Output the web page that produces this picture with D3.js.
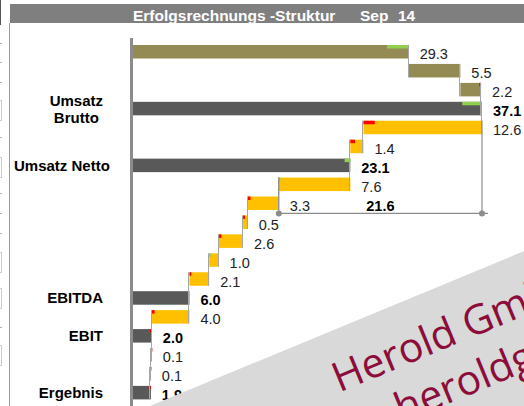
<!DOCTYPE html>
<html>
<head>
<meta charset="utf-8">
<script src="https://cdn.jsdelivr.net/npm/d3@7"></script>
<style>
  body { margin: 0; background: #fff; }
  svg { display: block; font-family: "Liberation Sans", Arial, sans-serif; }
</style>
</head>
<body>
<div id="chart"></div>
<script>
// waterfall rows, top to bottom
const stepValues = [29.3, 5.5, 2.2, 37.1, 12.6, 1.4, 23.1, 7.6, 3.3, 0.5, 2.6, 1.0, 2.1, 6.0, 4.0, 2.0, 0.1, 0.1, 1.9];
const stepTypes = ["add", "add", "add", "total", "sub", "sub", "total", "sub", "sub", "sub", "sub", "sub", "sub", "total", "sub", "total", "sub", "sub", "total"];
// change vs. previous period (green = up, red = down)
const deltaValues = [2.3, 0, -0.2, 2.1, -1.2, -0.5, 0.6, 0.1, -0.3, -0.2, -0.3, 0.2, -0.2, 0.1, -0.3, -0.2, -0.1, -0.1, -0.2];
const categoryRows = [3, 6, 13, 15, 18];
const categoryNames = [["Umsatz", "Brutto"], ["Umsatz Netto"], ["EBITDA"], ["EBIT"], ["Ergebnis"]];
const bracketRows = [4, 7];
const titleParts = ["Erfolgsrechnungs -Struktur", "Sep", "14"];

const width = 524, height = 406;
const colors = { add: "#948A54", total: "#595959", sub: "#FFC000", up: "#92D050", down: "#FF0000" };

const svg = d3.select("#chart").append("svg").attr("width", width).attr("height", height);

// left strip & frame
svg.append("line").attr("x1", 0.5).attr("x2", 0.5).attr("y1", 0).attr("y2", 25)
  .attr("stroke", "#555").attr("stroke-width", 1);
[43, 62, 82, 137, 193, 213, 233, 327].forEach((yy) => {
  svg.append("line").attr("x1", 0).attr("x2", 2).attr("y1", yy + 0.5).attr("y2", yy + 0.5).attr("stroke", "#aaa");
});
[100, 157, 252, 288, 345].forEach((yy) => {
  svg.append("rect").attr("x", -1).attr("y", yy + 0.5).attr("width", 2.5).attr("height", 20)
    .attr("fill", "none").attr("stroke", "#ccc");
});
svg.append("line").attr("x1", 9.5).attr("x2", 9.5).attr("y1", 23).attr("y2", height)
  .attr("stroke", "#9a9a9a");

// title bar
svg.append("rect").attr("x", 10).attr("y", 4).attr("width", width - 10).attr("height", 19).attr("fill", "#7F7F7F");
const title = svg.append("text").attr("y", 20.5).attr("fill", "#fff")
  .attr("font-weight", "bold").attr("font-size", 15.5);
const titleX = [133, 360, 398];
titleParts.forEach((t, i) => title.append("tspan").attr("x", titleX[i]).text(t));

// running levels
let level = 0;
const rows = stepValues.map((v, i) => {
  const type = stepTypes[i];
  let start, end;
  if (type === "total") { start = 0; end = v; }
  else if (type === "add") { start = level; end = level + v; }
  else { start = level; end = level - v; }
  level = end;
  return { i, v, type, start, end, delta: deltaValues[i] };
});

const x = d3.scaleLinear().domain([0, 37.1]).range([133, 482]);
const y = d3.scaleBand().domain(d3.range(stepValues.length)).range([45, 399.4]).paddingInner(0.287);
const bw = y.bandwidth();

// bars
svg.selectAll(".bar").data(rows).enter().append("rect")
  .attr("class", "bar")
  .attr("x", (d) => x(Math.min(d.start, d.end)))
  .attr("width", (d) => Math.max(1, Math.abs(x(d.end) - x(d.start))))
  .attr("y", (d) => y(d.i))
  .attr("height", bw)
  .attr("fill", (d) => colors[d.type]);

// delta caps at the end of each bar
svg.selectAll(".cap").data(rows.filter((d) => d.delta !== 0)).enter().append("rect")
  .attr("class", "cap")
  .attr("x", (d) => {
    const w = Math.max(1.5, x(Math.abs(d.delta)) - x(0));
    return d.end >= d.start ? x(d.end) - w : x(d.end);
  })
  .attr("width", (d) => Math.max(1.5, x(Math.abs(d.delta)) - x(0)))
  .attr("y", (d) => y(d.i))
  .attr("height", 3.5)
  .attr("fill", (d) => (d.delta > 0 ? colors.up : colors.down));

// connectors
const conn = svg.append("g").attr("stroke", "#A6A6A6").attr("stroke-width", 1);
rows.slice(0, -1).forEach((d) => {
  const cx = Math.round(x(d.end)) - 0.5;
  conn.append("line").attr("x1", cx).attr("x2", cx)
    .attr("y1", y(d.i)).attr("y2", y(d.i + 1) + bw);
});

// bracket for the summed cost rows
const bFrom = rows[bracketRows[0]], bTo = rows[bracketRows[1]];
const bracketSum = d3.sum(rows.slice(bracketRows[0], bracketRows[1] + 1).filter((d) => d.type === "sub"), (d) => d.v);
const by = y(bracketRows[1] + 2) - 2;
const bx1 = x(bTo.end), bx2 = x(bFrom.start);
const br = svg.append("g").attr("stroke", "#8C8C8C").attr("stroke-width", 1.2);
br.append("line").attr("x1", bx1).attr("x2", bx2 + 6).attr("y1", by).attr("y2", by);
br.append("line").attr("x1", bx2).attr("x2", bx2).attr("y1", y(bracketRows[0])).attr("y2", by);
br.append("line").attr("x1", bx1).attr("x2", bx1).attr("y1", y(bracketRows[1])).attr("y2", by);
svg.selectAll(".dot").data([bx1, bx2]).enter().append("circle")
  .attr("cx", (d) => d).attr("cy", by).attr("r", 3).attr("fill", "#8C8C8C");
svg.append("text").attr("x", (bx1 + bx2) / 2).attr("y", by - 2)
  .attr("text-anchor", "middle").attr("font-weight", "bold").attr("font-size", 14.5)
  .text(bracketSum.toFixed(1));

// axis line
svg.append("rect").attr("x", 130).attr("y", 38).attr("width", 3).attr("height", height - 38).attr("fill", "#8C8C8C");

// value labels
svg.selectAll(".val").data(rows).enter().append("text")
  .attr("class", "val")
  .attr("x", (d) => x(Math.max(d.start, d.end)) + 11)
  .attr("y", (d) => y(d.i) + bw / 2 + 7.5)
  .attr("font-size", 14.5)
  .attr("font-weight", (d) => (d.type === "total" ? "bold" : "normal"))
  .attr("fill", (d) => (d.type === "total" ? "#000" : "#222"))
  .text((d) => d.v.toFixed(1));

// category labels
categoryRows.forEach((r, k) => {
  const lines = categoryNames[k];
  const cy = y(r) + bw / 2;
  const t = svg.append("text").attr("font-weight", "bold").attr("font-size", 15).attr("fill", "#000");
  if (lines.length === 1) {
    t.attr("y", cy + 5.5).text(lines[0]);
    const w = t.node().getComputedTextLength();
    t.attr("x", Math.max(103, 14 + w)).attr("text-anchor", "end");
  } else {
    t.attr("text-anchor", "middle");
    const spans = lines.map((l, j) => t.append("tspan").attr("y", cy - 3 + j * 17).text(l));
    const w = d3.max(spans, (s) => s.node().getComputedTextLength());
    spans.forEach((s) => s.attr("x", 103 - w / 2));
  }
});

// watermark
const wm = svg.append("g").attr("transform", "translate(150,406) rotate(-22.5)");
wm.append("rect").attr("x", 0).attr("y", 0).attr("width", 700).attr("height", 300).attr("fill", "#D9D9D9");
wm.append("text").attr("x", 180).attr("y", 60).attr("font-family", "'Open Sans', sans-serif")
  .attr("font-size", 41).attr("fill", "#8C0C3A").text("Herold GmbH");
wm.append("text").attr("x", 226).attr("y", 112).attr("font-family", "'Open Sans', sans-serif")
  .attr("font-size", 41).attr("fill", "#8C0C3A").text("heroldgmbh.at");
</script>
</body>
</html>
